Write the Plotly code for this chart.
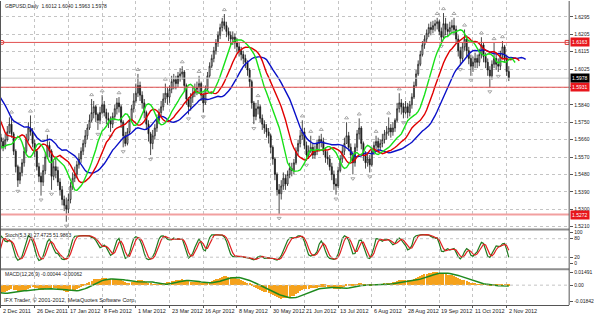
import numpy as np
import pandas as pd
import plotly.graph_objects as go

# ---------------- data (prices in pips above 1.0000) ----------------
# hidden warm-up closes before 2 Dec 2011 (off-screen, only feed the indicators)
history_close_pips = [5900, 5930, 5960, 5980, 6000, 6010, 6000, 5990, 6010, 6020,
                      6000, 5980, 5990, 6010, 5990, 5970, 5980, 6000, 5990, 5970,
                      5980, 5950, 5970, 5960, 5920, 5870, 5850, 5860, 5800, 5760,
                      5720, 5690, 5670, 5640, 5600, 5560, 5520, 5500, 5590, 5670]
first_open_pips = 5670

close_pips = [5650, 5625, 5660, 5700, 5740, 5690, 5600, 5520, 5450, 5490,
              5540, 5600, 5660, 5720, 5700, 5640, 5600, 5520, 5470, 5440,
              5500, 5570, 5630, 5600, 5470, 5520, 5500, 5440, 5400, 5350,
              5320, 5300, 5350, 5420, 5460, 5480, 5530, 5560, 5600, 5640,
              5680, 5720, 5760, 5800, 5830, 5790, 5760, 5800, 5840, 5800,
              5770, 5760, 5740, 5780, 5820, 5850, 5830, 5750, 5680, 5640,
              5700, 5760, 5820, 5860, 5900, 5940, 5890, 5850, 5800, 5740,
              5690, 5640, 5680, 5720, 5760, 5800, 5830, 5870, 5900, 5880,
              5920, 5960, 5970, 5950, 5990, 6000, 6010, 5940, 5870, 5830,
              5880, 5900, 5920, 5930, 5950, 5890, 5850, 5920, 5990, 6040,
              6080, 6120, 6160, 6200, 6240, 6270, 6250, 6220, 6200, 6180,
              6190, 6160, 6140, 6120, 6100, 6080, 6060, 6020, 5960, 5850,
              5780, 5820, 5830, 5770, 5740, 5720, 5700, 5680, 5620, 5560,
              5480, 5400, 5380, 5420, 5460, 5430, 5480, 5510, 5500, 5540,
              5600, 5640, 5680, 5700, 5630, 5580, 5600, 5620, 5580, 5600,
              5640, 5660, 5650, 5600, 5570, 5560, 5520, 5480, 5430, 5420,
              5500, 5560, 5600, 5640, 5680, 5620, 5580, 5540, 5620, 5690,
              5720, 5640, 5580, 5540, 5560, 5530, 5600, 5630, 5650, 5620,
              5640, 5660, 5690, 5700, 5720, 5700, 5720, 5760, 5820, 5850,
              5830, 5800, 5830, 5800, 5840, 5880, 5940, 6000, 6050, 6100,
              6150, 6180, 6210, 6240, 6230, 6250, 6260, 6270, 6220, 6190,
              6260, 6230, 6220, 6240, 6250, 6230, 6180, 6120, 6080, 6140,
              6180, 6120, 6080, 6040, 6060, 6080, 6060, 6100, 6150, 6090,
              6060, 6020, 5990, 6050, 6080, 6050, 6040, 6100, 6140, 6080,
              6012, 5978]

high_pips = [5690, 5670, 5690, 5730, 5775, 5780, 5700, 5610, 5530, 5520,
             5560, 5620, 5690, 5750, 5785, 5720, 5660, 5610, 5540, 5490,
             5530, 5590, 5685, 5650, 5610, 5550, 5560, 5520, 5460, 5420,
             5370, 5360, 5380, 5440, 5490, 5520, 5550, 5590, 5620, 5660,
             5710, 5740, 5790, 5870, 5860, 5840, 5800, 5830, 5890, 5860,
             5820, 5800, 5780, 5800, 5840, 5875, 5880, 5840, 5760, 5700,
             5720, 5780, 5840, 5900, 5950, 6000, 5960, 5910, 5870, 5810,
             5760, 5700, 5710, 5740, 5790, 5820, 5860, 5900, 5950, 5930,
             5940, 5990, 6000, 5990, 6010, 6030, 6040, 6020, 5950, 5880,
             5900, 5930, 5950, 5960, 5990, 5960, 5900, 5940, 6010, 6060,
             6100, 6140, 6180, 6220, 6260, 6290, 6310, 6270, 6240, 6220,
             6220, 6210, 6185, 6160, 6140, 6120, 6100, 6070, 6030, 5970,
             5860, 5850, 5865, 5840, 5790, 5760, 5740, 5720, 5690, 5630,
             5570, 5490, 5430, 5450, 5490, 5480, 5500, 5540, 5540, 5560,
             5620, 5660, 5710, 5760, 5720, 5650, 5630, 5680, 5640, 5630,
             5660, 5680, 5690, 5670, 5620, 5600, 5580, 5540, 5500, 5460,
             5520, 5580, 5630, 5670, 5750, 5700, 5640, 5600, 5640, 5710,
             5770, 5730, 5650, 5600, 5590, 5580, 5620, 5650, 5680, 5670,
             5660, 5690, 5710, 5730, 5775, 5740, 5750, 5770, 5850, 5900,
             5870, 5850, 5860, 5850, 5860, 5900, 5960, 6020, 6070, 6120,
             6170, 6200, 6230, 6260, 6270, 6275, 6280, 6290, 6280, 6240,
             6315, 6290, 6260, 6270, 6280, 6290, 6250, 6200, 6140, 6160,
             6230, 6200, 6140, 6100, 6090, 6110, 6100, 6130, 6190, 6160,
             6110, 6080, 6040, 6070, 6160, 6110, 6080, 6120, 6170, 6150,
             6100, 6040]

low_pips = [5610, 5600, 5610, 5650, 5690, 5670, 5580, 5490, 5415, 5430,
            5470, 5520, 5590, 5650, 5680, 5620, 5570, 5500, 5440, 5370,
            5420, 5480, 5560, 5570, 5400, 5450, 5460, 5420, 5370, 5320,
            5290, 5235, 5280, 5330, 5400, 5440, 5460, 5510, 5540, 5580,
            5620, 5660, 5710, 5750, 5770, 5750, 5710, 5740, 5790, 5780,
            5740, 5720, 5700, 5720, 5760, 5790, 5800, 5720, 5620, 5625,
            5630, 5690, 5750, 5800, 5850, 5880, 5860, 5820, 5770, 5710,
            5650, 5580, 5610, 5660, 5700, 5740, 5780, 5810, 5850, 5840,
            5850, 5900, 5920, 5920, 5930, 5960, 5970, 5910, 5840, 5790,
            5810, 5850, 5880, 5890, 5900, 5860, 5800, 5840, 5910, 5980,
            6030, 6060, 6100, 6140, 6180, 6220, 6230, 6190, 6170, 6150,
            6150, 6130, 6110, 6090, 6070, 6050, 6030, 5990, 5930, 5820,
            5740, 5760, 5790, 5750, 5710, 5690, 5670, 5640, 5590, 5530,
            5450, 5370, 5275, 5350, 5400, 5400, 5420, 5460, 5470, 5480,
            5530, 5580, 5620, 5660, 5610, 5550, 5560, 5590, 5560, 5560,
            5580, 5610, 5620, 5580, 5540, 5530, 5500, 5450, 5400, 5375,
            5410, 5490, 5540, 5580, 5640, 5600, 5550, 5480, 5520, 5600,
            5660, 5610, 5550, 5510, 5520, 5490, 5520, 5580, 5600, 5590,
            5600, 5620, 5640, 5660, 5680, 5670, 5680, 5700, 5750, 5800,
            5790, 5770, 5790, 5770, 5780, 5820, 5870, 5930, 5990, 6040,
            6090, 6130, 6160, 6190, 6200, 6210, 6220, 6230, 6200, 6165,
            6180, 6200, 6190, 6200, 6210, 6200, 6160, 6090, 6045, 6060,
            6120, 6090, 6050, 5990, 6010, 6030, 6030, 6040, 6080, 6060,
            6030, 5990, 5930, 5970, 6030, 6020, 6010, 6020, 6080, 6060,
            5990, 5963]

date_labels = ["2 Dec 2011", "26 Dec 2011", "17 Jan 2012", "8 Feb 2012", "1 Mar 2012",
               "23 Mar 2012", "16 Apr 2012", "8 May 2012", "30 May 2012", "21 Jun 2012",
               "13 Jul 2012", "6 Aug 2012", "28 Aug 2012", "19 Sep 2012", "11 Oct 2012",
               "2 Nov 2012"]
bars_per_label = 16

price_tick_values = [1.6295, 1.6205, 1.6115, 1.6025, 1.5930, 1.5840, 1.5750,
                     1.5660, 1.5570, 1.5480, 1.5390, 1.5300, 1.5210]
price_tick_text = ["1.6295", "1.6205", "1.6115", "1.6025", "", "1.5840", "1.5750",
                   "1.5660", "1.5570", "1.5480", "1.5390", "1.5300", "1.5210"]
upper_levels = [1.6163, 1.5931]
lower_levels = [1.5272]
bid_level = 1.5978
stoch_ticks = [0, 20, 80, 100]
stoch_levels = [20, 80]
macd_ticks = [0.01491, 0.0, -0.01842]
macd_tick_text = ["0.01491", "0.00", "-0.01842"]

header_text = "GBPUSD,Daily  1.6012 1.6040 1.5963 1.5978"
stoch_text = "Stoch(5,3,3) 27.4725 51.9863"
macd_text = "MACD(12,26,9) -0.00044 -0.00062"
copyright_text = "IFX Trader, \u00a9 2001-2012, MetaQuotes Software Corp."

# ---------------- derived series ----------------
c = 1 + np.array(close_pips) / 10000.0
h = 1 + np.array(high_pips) / 10000.0
l = 1 + np.array(low_pips) / 10000.0
o = np.concatenate([[1 + first_open_pips / 10000.0], c[:-1]])
N = len(c)
bars = np.arange(N)

hist = 1 + np.array(history_close_pips) / 10000.0
NH = len(hist)
all_c = np.concatenate([hist, c])
all_h = np.concatenate([hist, h])
all_l = np.concatenate([hist, l])
all_idx = np.arange(-NH, N)
median = (all_h + all_l) / 2


def smma(x, n):
    out = np.full(len(x), np.nan)
    out[n - 1] = x[:n].mean()
    for i in range(n, len(x)):
        out[i] = (out[i - 1] * (n - 1) + x[i]) / n
    return out


jaw = smma(median, 13)
teeth = smma(median, 8)
lips = smma(median, 5)

sc = pd.Series(all_c)
macd = sc.ewm(span=12, adjust=False).mean() - sc.ewm(span=26, adjust=False).mean()
signal = macd.rolling(9).mean()

hh = pd.Series(all_h).rolling(5).max()
ll = pd.Series(all_l).rolling(5).min()
k = 100 * (sc - ll).rolling(3).sum() / (hh - ll).rolling(3).sum()
d = k.rolling(3).mean()

up_fr, dn_fr = [], []
for i in range(2, N - 2):
    if h[i] > h[i - 1] and h[i] > h[i - 2] and h[i] >= h[i + 1] and h[i] >= h[i + 2]:
        up_fr.append(i)
    if l[i] < l[i - 1] and l[i] < l[i - 2] and l[i] <= l[i + 1] and l[i] <= l[i + 2]:
        dn_fr.append(i)
up_fr = np.array(up_fr)
dn_fr = np.array(dn_fr)

# ---------------- geometry ----------------
W, H = 594, 316
X_END = 574 / W


def py(px):
    return 1 - px / H


px_per_bar = 2.125
xr = [(0 - 1) / px_per_bar, (574 - 1) / px_per_bar]
tick_bars = [i * bars_per_label for i in range(len(date_labels))]
GRID = "#c4c4c4"
FONT = "Liberation Sans, Arial, sans-serif"

fig = go.Figure()
fig.add_trace(go.Candlestick(
    x=bars, open=o, high=h, low=l, close=c,
    increasing=dict(line=dict(color="#1a1a1a", width=0.8), fillcolor="#ffffff"),
    decreasing=dict(line=dict(color="#1a1a1a", width=0.8), fillcolor="#1a1a1a"),
    xaxis="x", yaxis="y", hoverinfo="skip"))

fig.add_trace(go.Scatter(x=bars[up_fr], y=h[up_fr] + 0.0022, mode="markers",
                         marker=dict(symbol="triangle-up-open", size=3.5, color="#a8a8a8",
                                     line=dict(width=1, color="#a8a8a8")),
                         xaxis="x", yaxis="y", hoverinfo="skip"))
fig.add_trace(go.Scatter(x=bars[dn_fr], y=l[dn_fr] - 0.0022, mode="markers",
                         marker=dict(symbol="triangle-down-open", size=3.5, color="#a8a8a8",
                                     line=dict(width=1, color="#a8a8a8")),
                         xaxis="x", yaxis="y", hoverinfo="skip"))

for vals, shift, col in [(jaw, 8, "#0a10c8"), (teeth, 5, "#e00000"), (lips, 3, "#18e018")]:
    xs = all_idx + shift
    m = (xs >= -2) & ~np.isnan(vals)
    fig.add_trace(go.Scatter(x=xs[m], y=vals[m], mode="lines",
                             line=dict(color=col, width=1.4),
                             xaxis="x", yaxis="y", hoverinfo="skip"))

# marker dots on the upper level line
fig.add_trace(go.Scatter(x=[0.47, 268.7], y=[upper_levels[0]] * 2, mode="markers",
                         marker=dict(symbol=["circle-open", "square-open"], size=4,
                                     color="#e03030", line=dict(width=1)),
                         xaxis="x", yaxis="y", hoverinfo="skip"))

vis = all_idx >= -1
fig.add_trace(go.Scatter(x=all_idx[vis], y=k[vis], mode="lines",
                         line=dict(color="#1f7a1f", width=1.2),
                         xaxis="x2", yaxis="y2", hoverinfo="skip"))
fig.add_trace(go.Scatter(x=all_idx[vis], y=d[vis], mode="lines",
                         line=dict(color="#e02020", width=1.2),
                         xaxis="x2", yaxis="y2", hoverinfo="skip"))

fig.add_trace(go.Bar(x=all_idx[vis], y=macd[vis], width=0.55,
                     marker=dict(color="#f5a21c", line=dict(width=0)),
                     xaxis="x3", yaxis="y3", hoverinfo="skip"))
fig.add_trace(go.Scatter(x=all_idx[vis], y=signal[vis], mode="lines",
                         line=dict(color="#1e8a1e", width=1.5),
                         xaxis="x3", yaxis="y3", hoverinfo="skip"))

shapes = []
for lv in upper_levels:
    shapes.append(dict(type="line", xref="paper", x0=0, x1=X_END, yref="y", y0=lv, y1=lv,
                       line=dict(color="#e25050", width=1)))
for lv in lower_levels:
    shapes.append(dict(type="line", xref="paper", x0=0, x1=X_END, yref="y", y0=lv, y1=lv,
                       line=dict(color="#f2a0a0", width=2)))
shapes.append(dict(type="line", xref="paper", x0=0, x1=X_END, yref="y", y0=bid_level, y1=bid_level,
                   line=dict(color="#c8c8c8", width=1)))
for lv in stoch_levels:
    shapes.append(dict(type="line", xref="paper", x0=0, x1=X_END, yref="y2", y0=lv, y1=lv,
                       line=dict(color=GRID, width=1, dash="dot")))
shapes.append(dict(type="line", xref="paper", x0=0, x1=X_END, yref="y3", y0=0, y1=0,
                   line=dict(color=GRID, width=1, dash="dot")))
# panel separators and borders
for top, bot in [(229, 231), (269, 271)]:
    shapes.append(dict(type="rect", xref="paper", yref="paper", x0=0, x1=X_END,
                       y0=py(bot), y1=py(top), fillcolor="#8e8e8e", line=dict(width=0)))
shapes.append(dict(type="line", xref="paper", yref="paper", x0=X_END, x1=X_END,
                   y0=py(306), y1=1, line=dict(color="#555555", width=1)))
shapes.append(dict(type="line", xref="paper", yref="paper", x0=0.5 / W, x1=0.5 / W,
                   y0=py(306), y1=1, line=dict(color="#555555", width=1)))

annotations = [
    dict(xref="paper", yref="paper", x=3 / W, y=py(5), text=header_text, showarrow=False,
         xanchor="left", yanchor="middle", font=dict(size=5)),
    dict(xref="paper", yref="paper", x=3 / W, y=py(235), text=stoch_text, showarrow=False,
         xanchor="left", yanchor="middle", font=dict(size=5)),
    dict(xref="paper", yref="paper", x=3 / W, y=py(275), text=macd_text, showarrow=False,
         xanchor="left", yanchor="middle", font=dict(size=5)),
    dict(xref="paper", yref="paper", x=2 / W, y=py(300.5), text=copyright_text, showarrow=False,
         xanchor="left", yanchor="middle", font=dict(size=5.5)),
]
for b, txt in zip(tick_bars, date_labels):
    annotations.append(dict(xref="x3", yref="paper", x=b, y=py(311.5), text=txt,
                            showarrow=False, xanchor="left", yanchor="middle",
                            font=dict(size=5.5)))
for lv in upper_levels + lower_levels:
    annotations.append(dict(xref="paper", yref="y", x=X_END + 1 / W, y=lv, text=f"{lv:.4f}",
                            showarrow=False, xanchor="left", yanchor="middle",
                            bgcolor="#e8161c", font=dict(size=5, color="white"), borderpad=1))
annotations.append(dict(xref="paper", yref="y", x=X_END + 1 / W, y=bid_level, text=f"{bid_level:.4f}",
                        showarrow=False, xanchor="left", yanchor="middle",
                        bgcolor="#000000", font=dict(size=5, color="white"), borderpad=1))

common_x = dict(domain=[0, X_END], range=xr, showticklabels=False, tickvals=tick_bars,
                showgrid=True, gridcolor=GRID, griddash="dot", gridwidth=1, zeroline=False,
                fixedrange=True)

fig.update_layout(
    width=W, height=H, margin=dict(l=0, r=0, t=0, b=0),
    paper_bgcolor="white", plot_bgcolor="white", showlegend=False,
    font=dict(family=FONT, size=5, color="#1a1a1a"),
    bargap=0,
    xaxis=dict(**common_x, anchor="y", rangeslider=dict(visible=False)),
    yaxis=dict(domain=[py(229), 1], range=[1.51997, 1.63773], side="right", anchor="x",
               tickvals=price_tick_values, ticktext=price_tick_text,
               ticks="outside", ticklen=3, tickcolor="#555555", showgrid=True,
               gridcolor=GRID, griddash="dot", zeroline=False, tickfont=dict(size=5)),
    xaxis2=dict(**common_x, anchor="y2"),
    yaxis2=dict(domain=[py(269), py(231)], range=[-16, 106.5], side="right", anchor="x2",
                tickvals=stoch_ticks, ticktext=[str(v) for v in stoch_ticks],
                ticks="outside", ticklen=3, tickcolor="#555555", showgrid=False,
                zeroline=False, tickfont=dict(size=5)),
    xaxis3=dict(**common_x, anchor="y3", showline=True, linecolor="#555555",
                ticks="outside", ticklen=2, tickcolor="#555555"),
    yaxis3=dict(domain=[py(306), py(271)], range=[-0.02302, 0.01721], side="right", anchor="x3",
                tickvals=macd_ticks, ticktext=macd_tick_text,
                ticks="outside", ticklen=3, tickcolor="#555555", showgrid=False,
                zeroline=False, tickfont=dict(size=5)),
    shapes=shapes, annotations=annotations,
)

fig.write_html("out.html")
